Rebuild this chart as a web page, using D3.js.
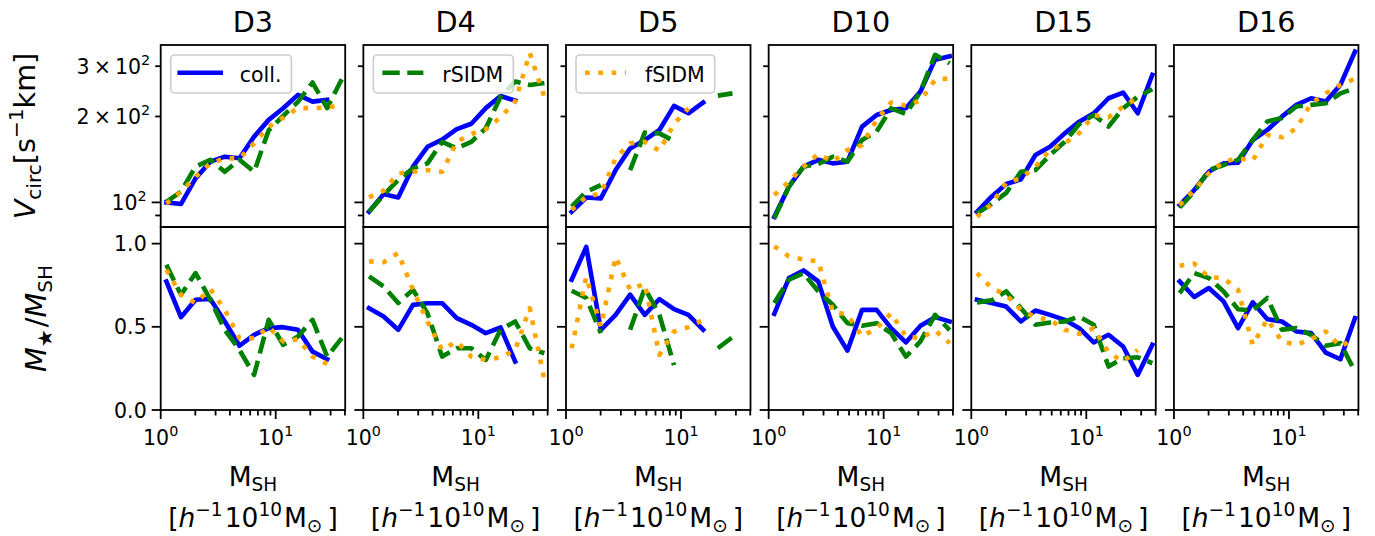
<!DOCTYPE html>
<html><head><meta charset="utf-8">
<script src="https://cdn.jsdelivr.net/npm/d3@7"></script>
<style>
body{margin:0;background:#fff}
svg{display:block}
text{font-family:"DejaVu Sans",sans-serif;fill:#000}
</style>
</head><body>
<svg id="chart" width="1375" height="536"></svg>
<script>
// ---------------- data ----------------
const simulations = ["D3", "D4", "D5", "D10", "D15", "D16"];
const legendLabels = ["coll.", "rSIDM", "fSIDM"];
// subhalo-mass bin centres [h^-1 10^10 Msun]
const massBins = [1.12, 1.50, 2.01, 2.70, 3.61, 4.84, 6.49, 8.69, 11.6, 15.6, 20.9, 28.0, 37.5];

// V_circ [km/s], one row per simulation
const vcircColl = [
  [100, 98.7, 121.4, 138.9, 144.6, 142.7, 170, 194.6, 213.7, 238, 225.5, 228.6, null],
  [92.7, 106.9, 104.1, 133.4, 156.6, 166, 180.5, 188.6, 213.9, 236, 227.3, null, null],
  [92.7, 104, 103.3, 129.8, 154.6, 165.4, 179.4, 217.9, 205.2, 224, null, null, null],
  [89, 113.5, 133.4, 141, 137, 138.9, 184.3, 202.4, 210.8, 213.6, 244.6, 316.3, 324.8],
  [92.7, 104.7, 116, 120.4, 146.6, 156.6, 174.5, 191.8, 205.2, 231.7, 242.6, 205.2, 279.6],
  [97.9, 110.5, 128, 137, 137.7, 165.4, 179.4, 199.8, 219.6, 231.7, 225.6, 258, 337.6]
];
const vcircRSIDM = [
  [100.5, 109, 133.5, 141, 128, 141, 128, 179, 201, 225, 263, 214, 270],
  [92.7, 106.1, 119.8, 131.6, 137, 163, 154.8, 163, 181.8, 234.6, 265.2, 258, 262],
  [96.6, 109, 115, null, 129.8, 175.5, 174.5, 164, null, null, 236.6, 241, null],
  [87.9, 113.5, 133.4, 136.3, 144.6, 138.9, 165.4, 177, 213.6, 204, 244.6, 328.9, 307],
  [91.5, 98.7, 108, 128, 129.8, 146.6, 163, 188.3, 202.4, 184.3, 213.6, 234.6, 249],
  [96, 109, 129.8, 135.2, 141, 165.4, 192, 197.4, 216.7, 219.6, 222.4, 241, 251]
];
const vcircFSIDM = [
  [99, 109, 123, 137, 142.6, 142.6, 161, 184, 198, 214, 214, 215, 219],
  [104.1, 109.9, 126.4, 128, 129.8, 128, 163, 173.8, 180.5, 198.6, 225.6, 333.6, 234],
  [94, 104.7, 107.5, 142.7, 161, 163, 151.8, 188.3, 213.6, null, null, null, null],
  [106.1, 118.2, 133.4, 147.7, 138.9, 152.6, 158.8, 194.6, 223.9, 217.9, 227.3, 268.9, 272],
  [89, 98.7, 117.2, 121.4, 133.4, 152.6, 161, 175, 202.4, 198.6, 216.7, 233, null],
  [97.9, 110.5, 126.4, 138.9, 142.7, 140, 172.3, 169.1, 181.8, 222.4, 241, 258, 271]
];

// stellar-to-subhalo mass ratio
const fstarColl = [
  [0.773, 0.558, 0.663, 0.667, 0.532, 0.386, 0.452, 0.492, 0.498, 0.482, 0.351, 0.305, null],
  [0.612, 0.562, 0.482, 0.632, 0.642, 0.642, 0.552, 0.512, 0.462, 0.496, 0.291, null, null],
  [0.783, 0.98, 0.482, 0.572, 0.693, 0.572, 0.667, 0.606, 0.572, 0.482, null, null, null],
  [0.578, 0.793, 0.839, 0.773, 0.502, 0.357, 0.602, 0.602, 0.492, 0.406, 0.506, 0.558, 0.532],
  [0.663, 0.643, 0.622, 0.532, 0.598, 0.572, 0.542, 0.492, 0.406, 0.452, 0.382, 0.211, 0.392],
  [0.773, 0.679, 0.733, 0.653, 0.492, 0.647, 0.546, 0.532, 0.472, 0.462, 0.345, 0.305, 0.552]
];
const fstarRSIDM = [
  [0.873, 0.693, 0.823, 0.663, 0.482, 0.361, 0.211, 0.542, 0.392, 0.442, 0.542, 0.321, 0.432],
  [0.803, 0.743, 0.643, 0.723, 0.582, 0.321, 0.371, 0.371, 0.301, 0.482, 0.532, 0.371, 0.341],
  [0.717, 0.673, 0.462, null, 0.482, 0.733, 0.572, 0.27, null, null, 0.371, 0.438, null],
  [0.643, 0.783, 0.823, 0.713, 0.633, 0.522, 0.506, 0.522, 0.462, 0.321, 0.412, 0.572, 0.48],
  [0.647, 0.659, 0.713, 0.612, 0.512, 0.526, 0.532, 0.562, 0.512, 0.261, 0.311, 0.317, 0.281],
  [0.703, 0.823, 0.793, 0.713, 0.606, 0.598, 0.673, 0.482, 0.492, 0.452, 0.386, 0.402, 0.231]
];
const fstarFSIDM = [
  [0.843, 0.693, 0.643, 0.727, 0.602, 0.432, 0.432, 0.498, 0.412, 0.426, 0.321, 0.277, null],
  [0.894, 0.888, 0.944, 0.723, 0.532, 0.361, 0.412, 0.321, 0.301, 0.317, 0.361, 0.612, 0.181],
  [0.371, 0.80, 0.502, 0.92, 0.723, 0.76, 0.331, 0.472, 0.498, 0.542, null, null, null],
  [0.984, 0.924, 0.904, 0.894, 0.592, 0.572, 0.442, 0.492, 0.582, 0.442, 0.432, 0.478, 0.402],
  [0.823, 0.733, 0.693, 0.602, 0.558, 0.542, 0.482, 0.458, 0.492, 0.345, 0.291, 0.361, null],
  [0.867, 0.88, 0.799, 0.793, 0.723, 0.392, 0.546, 0.412, 0.392, 0.426, 0.472, 0.382, 0.432]
];

// ticks
const vcircMajorTicks = [100];
const vcircMinorTicks = [90, 200, 300];
const vcircTickLabels = [
  {v: 100, parts: [{t: "10"}, {t: "2", sup: true}]},
  {v: 200, parts: [{t: "2\u2009×\u200910"}, {t: "2", sup: true}]},
  {v: 300, parts: [{t: "3\u2009×\u200910"}, {t: "2", sup: true}]}
];
const fstarTicks = [0, 0.5, 1.0];
const fstarTickLabels = ["0.0", "0.5", "1.0"];
const massMajorTicks = [1, 10];
const massMinorTicks = [2, 3, 4, 5, 6, 7, 8, 9, 20, 30, 40];
const massTickLabels = [
  {v: 1, parts: [{t: "10"}, {t: "0", sup: true}]},
  {v: 10, parts: [{t: "10"}, {t: "1", sup: true}]}
];

// ---------------- layout ----------------
const svg = d3.select("#chart");
const panelLeft0 = 160.7, panelStep = 202.65, panelW = 184.5;
const topY0 = 45, topY1 = 227, botY0 = 227, botY1 = 410;
const FS = 20.5, LABEL_FS = 28.7, XLABEL_FS = 26.5, TITLE_FS = 28.7;
const MAJ = 9, MIN = 5.5, SPW = 1.8;

const yV = d3.scaleLog().domain([82, 356]).range([topY1, topY0]);
const yF = d3.scaleLinear().domain([0, 1.1]).range([botY1, botY0]);

const styles = [
  {color: "blue", dash: null, cap: "square"},
  {color: "green", dash: "17.4,7.5", cap: "butt"},
  {color: "orange", dash: "4.7,8.6", cap: "butt"}
];
const LW = 4.6;
const vcircSeries = [vcircColl, vcircRSIDM, vcircFSIDM];
const fstarSeries = [fstarColl, fstarRSIDM, fstarFSIDM];

function mtext(g, x, y, parts, size, anchor, rotate) {
  const t = g.append("text").attr("x", x).attr("y", y)
    .attr("text-anchor", anchor).style("font-size", size + "px");
  if (rotate) t.attr("transform", `rotate(-90,${x},${y})`);
  let cur = 0;
  parts.forEach(pt => {
    const shift = pt.sup ? -0.42 * size : pt.sub ? 0.2 * size : 0;
    const s = t.append("tspan").text(pt.t).attr("dy", shift - cur);
    if (pt.dx) s.attr("dx", pt.dx);
    cur = shift;
    if (pt.sup || pt.sub) s.style("font-size", (0.7 * size) + "px");
    if (pt.it) s.style("font-style", "italic");
  });
  return t;
}

const defs = svg.append("defs");

simulations.forEach((name, p) => {
  const x0 = panelLeft0 + p * panelStep;
  const x = d3.scaleLog().domain([1, 40.2]).range([x0, x0 + panelW]);
  const g = svg.append("g");

  defs.append("clipPath").attr("id", "ct" + p).append("rect")
    .attr("x", x0).attr("y", topY0).attr("width", panelW).attr("height", topY1 - topY0);
  defs.append("clipPath").attr("id", "cb" + p).append("rect")
    .attr("x", x0).attr("y", botY0).attr("width", panelW).attr("height", botY1 - botY0);

  const rows = [
    {series: vcircSeries, y: yV, clip: "ct" + p},
    {series: fstarSeries, y: yF, clip: "cb" + p}
  ];
  rows.forEach(row => {
    const lg = g.append("g").attr("clip-path", `url(#${row.clip})`);
    row.series.forEach((ser, s) => {
      const vals = ser[p];
      const line = d3.line()
        .defined(d => d[1] != null)
        .x(d => x(d[0])).y(d => row.y(d[1]));
      const pts = massBins.map((m, i) => [m, vals[i]]);
      const st = styles[s];
      const path = lg.append("path").attr("d", line(pts))
        .attr("fill", "none").attr("stroke", st.color)
        .attr("stroke-width", LW).attr("stroke-linejoin", "round")
        .attr("stroke-linecap", st.cap);
      if (st.dash) path.attr("stroke-dasharray", st.dash);
    });
  });

  // ticks
  const tickG = g.append("g").attr("stroke", "#000").attr("stroke-width", SPW);
  vcircMajorTicks.forEach(v => tickG.append("line").attr("x1", x0 - MAJ).attr("x2", x0)
    .attr("y1", yV(v)).attr("y2", yV(v)));
  vcircMinorTicks.forEach(v => tickG.append("line").attr("x1", x0 - MIN).attr("x2", x0)
    .attr("y1", yV(v)).attr("y2", yV(v)));
  fstarTicks.forEach(v => tickG.append("line").attr("x1", x0 - MAJ).attr("x2", x0)
    .attr("y1", yF(v)).attr("y2", yF(v)));
  massMajorTicks.forEach(v => tickG.append("line").attr("x1", x(v)).attr("x2", x(v))
    .attr("y1", botY1).attr("y2", botY1 + MAJ));
  massMinorTicks.forEach(v => tickG.append("line").attr("x1", x(v)).attr("x2", x(v))
    .attr("y1", botY1).attr("y2", botY1 + MIN));

  // spines
  [[topY0, topY1], [botY0, botY1]].forEach(([a, b]) => {
    g.append("rect").attr("x", x0).attr("y", a).attr("width", panelW).attr("height", b - a)
      .attr("fill", "none").attr("stroke", "#000").attr("stroke-width", SPW);
  });

  // x tick labels
  massTickLabels.forEach(l => mtext(g, x(l.v), botY1 + 35, l.parts, FS, "middle"));

  // y tick labels (first column only)
  if (p === 0) {
    vcircTickLabels.forEach(l => {
      const len = vcircMajorTicks.includes(l.v) ? MAJ : MIN;
      mtext(g, x0 - len - 5, yV(l.v) + 7.5, l.parts, FS, "end");
    });
    fstarTicks.forEach((v, i) => {
      g.append("text").attr("x", x0 - MAJ - 5).attr("y", yF(v) + 7.5)
        .attr("text-anchor", "end").style("font-size", FS + "px").text(fstarTickLabels[i]);
    });
  }

  // title
  g.append("text").attr("x", x0 + panelW / 2).attr("y", 32).attr("text-anchor", "middle")
    .style("font-size", TITLE_FS + "px").text(name);

  // x label (two lines)
  const cx = x0 + panelW / 2;
  mtext(g, cx, 486, [{t: "M"}, {t: "SH", sub: true}], XLABEL_FS, "middle");
  mtext(g, cx, 527, [{t: "["}, {t: "h", it: true}, {t: "−1", sup: true}, {t: "10", dx: 2},
    {t: "10", sup: true}, {t: "M", dx: 2}, {t: "⊙", sub: true}, {t: "]", dx: 5}], XLABEL_FS, "middle");

  // legend
  if (p < 3) {
    const lgG = g.append("g");
    const bx = x0 + 10, by = topY0 + 10, bh = 38;
    const box = lgG.append("rect").attr("x", bx).attr("y", by).attr("height", bh)
      .attr("rx", 4).attr("fill", "#fff").attr("fill-opacity", 0.8)
      .attr("stroke", "#ccc").attr("stroke-width", 1.6);
    const st = styles[p];
    const hl = lgG.append("line").attr("x1", bx + 9).attr("x2", bx + 9 + 41)
      .attr("y1", by + 17.7).attr("y2", by + 17.7)
      .attr("stroke", st.color).attr("stroke-width", LW).attr("stroke-linecap", st.cap);
    if (st.dash) hl.attr("stroke-dasharray", st.dash);
    const tx = lgG.append("text").attr("x", bx + 69).attr("y", by + 27)
      .style("font-size", FS + "px").text(legendLabels[p]);
    const tl = tx.node().getComputedTextLength();
    box.attr("width", 69 + tl + 10);
  }
});

// y-axis labels
mtext(svg, 35, (topY0 + topY1) / 2, [{t: "V", it: true}, {t: "circ", sub: true}, {t: "[s"},
  {t: "−1", sup: true}, {t: "km]"}], LABEL_FS, "middle", true);
mtext(svg, 46, (botY0 + botY1) / 2, [{t: "M", it: true}, {t: "★", sub: true}, {t: "/", dx: 2},
  {t: "M", it: true}, {t: "SH", sub: true}], LABEL_FS, "middle", true);
</script>
</body></html>
